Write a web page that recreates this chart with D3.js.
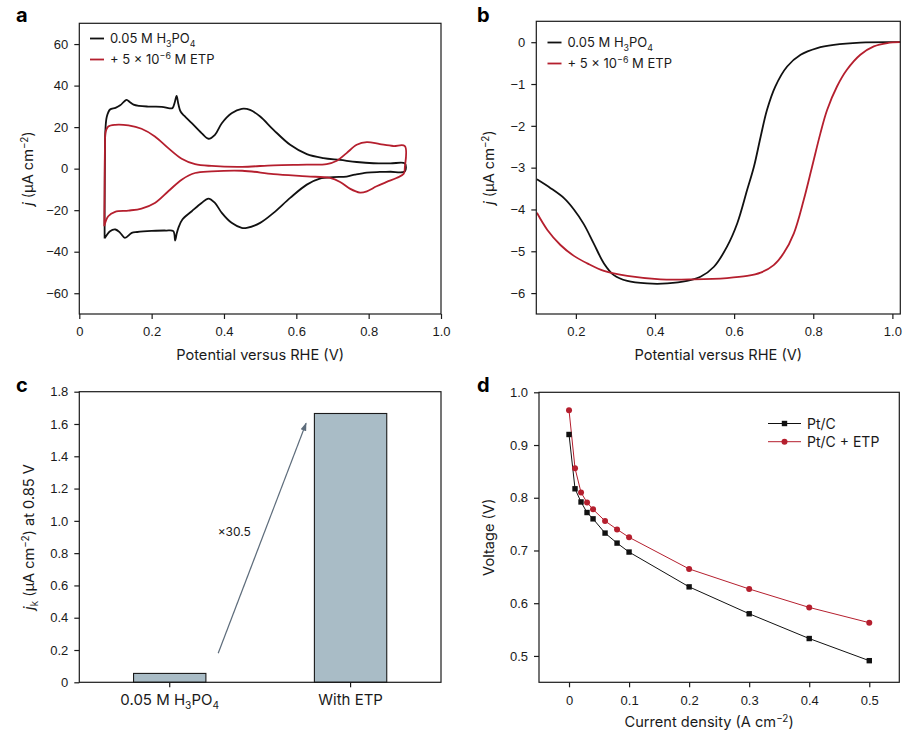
<!DOCTYPE html>
<html>
<head>
<meta charset="utf-8">
<script src="https://cdn.jsdelivr.net/npm/d3@7"></script>
<style>
  body { margin: 0; background: #fff; }
  svg { font-family: Inter, "Liberation Sans", Arial, sans-serif; }
  .axis path, .axis line { stroke: #1a1a1a; stroke-width: 1.2; }
  .axis text { font-size: 13px; fill: #1a1a1a; }
</style>
</head>
<body>
<svg id="chart" width="917" height="740"></svg>
<script>
// ---- data ----

// a: cyclic voltammograms, [potential V, j uA cm-2], forward scan then reverse
var cvBase = [
  [0.070, -33.6], [0.070, -20], [0.071, 10], [0.072, 17.9], [0.076, 25], [0.085, 28.5],
  [0.100, 29.3], [0.113, 30.5], [0.125, 32.5], [0.131, 33.1], [0.140, 32], [0.150, 30.8],
  [0.165, 30.2], [0.190, 29.9], [0.228, 29.8], [0.250, 29.0], [0.258, 29.2], [0.264, 32],
  [0.269, 35], [0.274, 31], [0.280, 27.5], [0.290, 25.5], [0.311, 21.9], [0.338, 17.1],
  [0.357, 14.4], [0.375, 16.3], [0.394, 21.9], [0.421, 26.7], [0.449, 28.8], [0.472, 28.3],
  [0.500, 25.1], [0.537, 18.7], [0.583, 11.5], [0.629, 7.0], [0.675, 5.1], [0.721, 4.2],
  [0.767, 3.2], [0.813, 2.6], [0.860, 2.5], [0.900, 2.5],
  [0.900, -1.3], [0.860, -1.5], [0.831, -1.6], [0.795, -1.9], [0.762, -2.9], [0.739, -3.8],
  [0.702, -4.1], [0.665, -4.8], [0.629, -7.7], [0.583, -14.1], [0.537, -21.3], [0.500, -26.1],
  [0.463, -28.5], [0.449, -28.5], [0.421, -26.1], [0.394, -21.3], [0.375, -16.5], [0.357, -14.4],
  [0.338, -16.5], [0.311, -20.5], [0.285, -24.5], [0.274, -28.5], [0.269, -31.5], [0.265, -34.6],
  [0.260, -30.1], [0.240, -29.8], [0.200, -30], [0.160, -30.5], [0.145, -30.9], [0.126, -33.3],
  [0.113, -30.9], [0.100, -29.3], [0.085, -30.1], [0.070, -33.6]
];
var cvEtp = [
  [0.069, -27.7], [0.070, -10], [0.071, 10], [0.073, 17.9], [0.080, 20.3], [0.099, 21.1],
  [0.136, 20.8], [0.172, 19.2], [0.209, 15.5], [0.246, 9.9], [0.283, 4.8], [0.320, 2.2],
  [0.366, 1.3], [0.450, 0.9], [0.537, 1.6], [0.629, 1.9], [0.684, 2.2], [0.712, 3.8],
  [0.739, 7.5], [0.767, 11.5], [0.795, 12.8], [0.831, 11.8], [0.868, 10.9], [0.900, 10.9],
  [0.900, 0.5], [0.897, -2.5], [0.877, -4.5], [0.850, -6.4], [0.822, -8.5], [0.795, -10.9],
  [0.776, -11.5], [0.748, -9.6], [0.721, -6.4], [0.693, -4.5], [0.629, -3.7], [0.537, -2.6],
  [0.450, -1.0], [0.366, -1.3], [0.320, -2.1], [0.283, -5.3], [0.246, -10.9], [0.209, -16.5],
  [0.172, -19.2], [0.136, -20.2], [0.099, -20.8], [0.080, -22.9], [0.069, -27.7]
];

// b: polarization curves, [potential V, j uA cm-2]
var lsvBase = [
  [0.1015, -3.28], [0.136, -3.49], [0.170, -3.73], [0.195, -4.0], [0.220, -4.35], [0.245, -4.81],
  [0.271, -5.29], [0.296, -5.57], [0.330, -5.71], [0.380, -5.77], [0.431, -5.77], [0.481, -5.71],
  [0.515, -5.61], [0.549, -5.37], [0.582, -4.89], [0.608, -4.33], [0.633, -3.53], [0.650, -2.98],
  [0.667, -2.26], [0.683, -1.62], [0.704, -1.06], [0.734, -0.58], [0.768, -0.30], [0.810, -0.14],
  [0.852, -0.064], [0.919, -0.01], [1.020, 0]
];
var lsvEtp = [
  [0.1015, -4.08], [0.128, -4.49], [0.161, -4.85], [0.195, -5.11], [0.229, -5.29], [0.271, -5.47],
  [0.330, -5.59], [0.414, -5.67], [0.498, -5.67], [0.582, -5.64], [0.633, -5.59], [0.667, -5.51],
  [0.700, -5.33], [0.725, -5.05], [0.751, -4.57], [0.776, -3.77], [0.797, -2.98], [0.818, -2.18],
  [0.835, -1.62], [0.860, -1.06], [0.885, -0.66], [0.919, -0.30], [0.953, -0.10], [0.987, -0.02],
  [1.020, 0]
];

// c: kinetic current at 0.85 V
var barCats = ['base', 'etp'];
var barValues = [0.055, 1.665];
var barRatio = '×30.5';

// d: fuel cell polarization
var cellCurrent = [0, 0.01, 0.02, 0.03, 0.04, 0.06, 0.08, 0.1, 0.2, 0.3, 0.4, 0.5];
var cellPtC = [0.920, 0.817, 0.792, 0.772, 0.760, 0.733, 0.714, 0.697, 0.631, 0.580, 0.533, 0.491];
var cellPtCEtp = [0.966, 0.856, 0.810, 0.791, 0.778, 0.756, 0.740, 0.725, 0.665, 0.627, 0.592, 0.563];

// tick values
var ticksAX = [0, 0.2, 0.4, 0.6, 0.8, 1.0];
var ticksAY = [-60, -40, -20, 0, 20, 40, 60];
var ticksBX = [0.2, 0.4, 0.6, 0.8, 1.0];
var ticksBY = [0, -1, -2, -3, -4, -5, -6];
var ticksCY = [0, 0.2, 0.4, 0.6, 0.8, 1.0, 1.2, 1.4, 1.6, 1.8];
var ticksDX = [0, 0.1, 0.2, 0.3, 0.4, 0.5];
var ticksDY = [0.5, 0.6, 0.7, 0.8, 0.9, 1.0];

// ---- drawing ----
var BLACK = '#111', RED = '#b51f2e', BAR = '#a9bcc6', ARROW = '#5d6c7b';
var svg = d3.select('#chart');

var oneDec = function (d) { return d === 0 ? '0' : d3.format('.1f')(d); };
var minus = function (d) { return d3.format('d')(d); };

// text with sub/superscripts: parts = [[text, 'sub'|'sup'|'it'|undefined], ...]
function richText(sel, parts) {
  var shift = 0;
  parts.forEach(function (p) {
    var t = sel.append('tspan').text(p[0]);
    var target = p[1] === 'sub' ? 4 : p[1] === 'sup' ? -5 : 0;
    if (target !== shift) { t.attr('dy', target - shift); shift = target; }
    if (p[1] === 'sub' || p[1] === 'sup') t.attr('font-size', '0.68em');
    if (p[1] === 'it') t.attr('font-style', 'italic');
  });
}

function frame(box) {
  svg.append('rect')
    .attr('x', box.left).attr('y', box.top)
    .attr('width', box.right - box.left).attr('height', box.bottom - box.top)
    .attr('fill', 'none').attr('stroke', '#1a1a1a').attr('stroke-width', 1.2);
}

function axes(box, x, y, xt, yt, xf, yf) {
  svg.append('g').attr('class', 'axis')
    .attr('transform', 'translate(0,' + box.bottom + ')')
    .call(d3.axisBottom(x).tickValues(xt).tickFormat(xf).tickSize(5).tickSizeOuter(0).tickPadding(8))
    .select('.domain').remove();
  svg.append('g').attr('class', 'axis')
    .attr('transform', 'translate(' + box.left + ',0)')
    .call(d3.axisLeft(y).tickValues(yt).tickFormat(yf).tickSize(5).tickSizeOuter(0).tickPadding(6))
    .select('.domain').remove();
}

function xTitle(box, yPos, parts, dx) {
  var t = svg.append('text')
    .attr('x', (box.left + box.right) / 2 + (dx || 0)).attr('y', yPos)
    .attr('text-anchor', 'middle').attr('font-size', 14.6).attr('fill', '#1a1a1a');
  richText(t, parts);
}

function yTitle(box, xPos, parts) {
  var cy = (box.top + box.bottom) / 2;
  var t = svg.append('text')
    .attr('transform', 'translate(' + xPos + ',' + cy + ') rotate(-90)')
    .attr('text-anchor', 'middle').attr('font-size', 14.6).attr('fill', '#1a1a1a');
  richText(t, parts);
}

function panelLabel(x, y, s) {
  svg.append('text').attr('x', x).attr('y', y).text(s)
    .attr('font-size', 20).attr('font-weight', 'bold').attr('fill', '#000');
}

function lineLegend(x, y, gap, items) {
  items.forEach(function (it, i) {
    var yy = y + i * gap;
    svg.append('line').attr('x1', x).attr('x2', x + 14).attr('y1', yy).attr('y2', yy)
      .attr('stroke', it.color).attr('stroke-width', 1.8);
    var t = svg.append('text').attr('x', x + 20).attr('y', yy + 4.5)
      .attr('font-size', 13).attr('fill', '#1a1a1a');
    richText(t, it.parts);
  });
}

var labelBase = [['0.05 M H'], ['3', 'sub'], ['PO'], ['4', 'sub']];
var labelEtp = [['+ 5 × 10'], ['−6', 'sup'], [' M ETP']];
var jTitle = [['j', 'it'], [' (µA cm'], ['−2', 'sup'], [')']];

// Panel a
(function () {
  var box = { left: 79.3, right: 441, top: 23.3, bottom: 314 };
  var x = d3.scaleLinear().domain([0, 1]).range([box.left, box.right]);
  var y = d3.scaleLinear().domain([-70, 70]).range([box.bottom, box.top]);
  var line = d3.line().x(function (d) { return x(d[0]); }).y(function (d) { return y(d[1]); })
    .curve(d3.curveCatmullRom.alpha(0.5));

  svg.append('path').datum(cvBase).attr('d', line)
    .attr('fill', 'none').attr('stroke', BLACK).attr('stroke-width', 1.8);
  svg.append('path').datum(cvEtp).attr('d', line)
    .attr('fill', 'none').attr('stroke', RED).attr('stroke-width', 1.8);

  frame(box);
  axes(box, x, y, ticksAX, ticksAY, oneDec, minus);
  xTitle(box, 360, [['Potential versus RHE (V)']]);
  yTitle(box, 33, jTitle);
  panelLabel(16, 21.5, 'a');
  lineLegend(90, 38.5, 21, [{ color: BLACK, parts: labelBase }, { color: RED, parts: labelEtp }]);
})();

// Panel b
(function () {
  var box = { left: 536.3, right: 900.3, top: 21.3, bottom: 314 };
  var x = d3.scaleLinear().domain([0.1, 1.02]).range([box.left, box.right]);
  var y = d3.scaleLinear().domain([-6.5, 0.5]).range([box.bottom, box.top]);
  var line = d3.line().x(function (d) { return x(d[0]); }).y(function (d) { return y(d[1]); })
    .curve(d3.curveCatmullRom.alpha(0.5));

  svg.append('path').datum(lsvBase).attr('d', line)
    .attr('fill', 'none').attr('stroke', BLACK).attr('stroke-width', 1.8);
  svg.append('path').datum(lsvEtp).attr('d', line)
    .attr('fill', 'none').attr('stroke', RED).attr('stroke-width', 1.8);

  frame(box);
  axes(box, x, y, ticksBX, ticksBY, oneDec, minus);
  xTitle(box, 360, [['Potential versus RHE (V)']]);
  yTitle(box, 494, jTitle);
  panelLabel(477, 21.5, 'b');
  lineLegend(547.5, 42.5, 21, [{ color: BLACK, parts: labelBase }, { color: RED, parts: labelEtp }]);
})();

// Panel c
(function () {
  var box = { left: 79.3, right: 441, top: 391.7, bottom: 682.3 };
  var x = d3.scaleBand().domain(barCats).range([box.left, box.right])
    .paddingInner(0.6).paddingOuter(0.3);
  var y = d3.scaleLinear().domain([0, 1.8]).range([box.bottom, box.top]);
  var fx = d3.scaleLinear().domain([0, 1]).range([box.left, box.right]);

  svg.selectAll('rect.bar')
      .data(barValues)
      .enter()
    .append('rect')
      .attr('class', 'bar')
      .attr('x', function (d, i) { return x(barCats[i]); })
      .attr('width', x.bandwidth())
      .attr('y', function (d) { return y(d); })
      .attr('height', function (d) { return y(0) - y(d); })
      .attr('fill', BAR).attr('stroke', '#1a1a1a').attr('stroke-width', 1.1);

  // growth arrow
  svg.append('defs').append('marker')
    .attr('id', 'arrowhead').attr('viewBox', '0 0 10 10')
    .attr('refX', 9).attr('refY', 5).attr('markerWidth', 7).attr('markerHeight', 7)
    .attr('orient', 'auto-start-reverse')
    .append('path').attr('d', 'M0,1.5 L10,5 L0,8.5 Z').attr('fill', ARROW);
  svg.append('line')
    .attr('x1', fx(0.384)).attr('y1', y(0.18))
    .attr('x2', fx(0.627)).attr('y2', y(1.605))
    .attr('stroke', ARROW).attr('stroke-width', 1.2)
    .attr('marker-end', 'url(#arrowhead)');
  svg.append('text').attr('x', fx(0.4285)).attr('y', y(0.933)).attr('dy', '0.35em')
    .attr('text-anchor', 'middle').attr('font-size', 12).attr('fill', '#1a1a1a').text(barRatio);

  frame(box);
  svg.append('g').attr('class', 'axis')
    .attr('transform', 'translate(' + box.left + ',0)')
    .call(d3.axisLeft(y).tickValues(ticksCY).tickFormat(oneDec).tickSize(5).tickSizeOuter(0).tickPadding(6))
    .select('.domain').remove();
  var xa = svg.append('g').attr('class', 'axis')
    .attr('transform', 'translate(0,' + box.bottom + ')')
    .call(d3.axisBottom(x).tickSize(5).tickSizeOuter(0).tickFormat(''));
  xa.select('.domain').remove();
  var catParts = [labelBase, [['With ETP']]];
  barCats.forEach(function (c, i) {
    var t = svg.append('text')
      .attr('x', x(c) + x.bandwidth() / 2).attr('y', box.bottom + 23)
      .attr('text-anchor', 'middle').attr('font-size', 15).attr('fill', '#1a1a1a');
    richText(t, catParts[i]);
  });
  yTitle(box, 34, [['j', 'it'], ['k', 'sub'], ['  (µA cm'], ['−2', 'sup'], [') at 0.85 V']]);
  panelLabel(16, 391.5, 'c');
})();

// Panel d
(function () {
  var box = { left: 539, right: 899.3, top: 392.3, bottom: 682.3 };
  var x = d3.scaleLinear().domain([-0.05, 0.55]).range([box.left, box.right]);
  var y = d3.scaleLinear().domain([0.45, 1.0]).range([box.bottom, box.top]);
  var line = d3.line().x(function (d, i) { return x(cellCurrent[i]); }).y(function (d) { return y(d); });

  svg.append('path').datum(cellPtC).attr('d', line)
    .attr('fill', 'none').attr('stroke', BLACK).attr('stroke-width', 1);
  svg.append('path').datum(cellPtCEtp).attr('d', line)
    .attr('fill', 'none').attr('stroke', RED).attr('stroke-width', 1);

  svg.selectAll('rect.sq')
      .data(cellPtC)
      .enter()
    .append('rect')
      .attr('class', 'sq')
      .attr('x', function (d, i) { return x(cellCurrent[i]) - 2.7; })
      .attr('y', function (d) { return y(d) - 2.7; })
      .attr('width', 5.4).attr('height', 5.4)
      .attr('fill', BLACK);

  svg.selectAll('circle.dot')
      .data(cellPtCEtp)
      .enter()
    .append('circle')
      .attr('class', 'dot')
      .attr('cx', function (d, i) { return x(cellCurrent[i]); })
      .attr('cy', function (d) { return y(d); })
      .attr('r', 3)
      .attr('fill', RED);

  frame(box);
  axes(box, x, y, ticksDX, ticksDY, oneDec, oneDec);
  xTitle(box, 726.5, [['Current density (A cm'], ['−2', 'sup'], [')']], -10);
  yTitle(box, 494, [['Voltage (V)']]);
  panelLabel(477, 391.5, 'd');

  // legend
  var lg = [{ color: BLACK, sym: 'sq', text: 'Pt/C' }, { color: RED, sym: 'dot', text: 'Pt/C + ETP' }];
  lg.forEach(function (it, i) {
    var yy = 423.5 + i * 18.2;
    svg.append('line').attr('x1', 768).attr('x2', 801).attr('y1', yy).attr('y2', yy)
      .attr('stroke', it.color).attr('stroke-width', 1);
    if (it.sym === 'sq') {
      svg.append('rect').attr('x', 784.5 - 2.7).attr('y', yy - 2.7).attr('width', 5.4).attr('height', 5.4)
        .attr('fill', it.color);
    } else {
      svg.append('circle').attr('cx', 784.5).attr('cy', yy).attr('r', 3).attr('fill', it.color);
    }
    svg.append('text').attr('x', 807).attr('y', yy + 5).attr('font-size', 14)
      .attr('fill', '#1a1a1a').text(it.text);
  });
})();
</script>
</body>
</html>
